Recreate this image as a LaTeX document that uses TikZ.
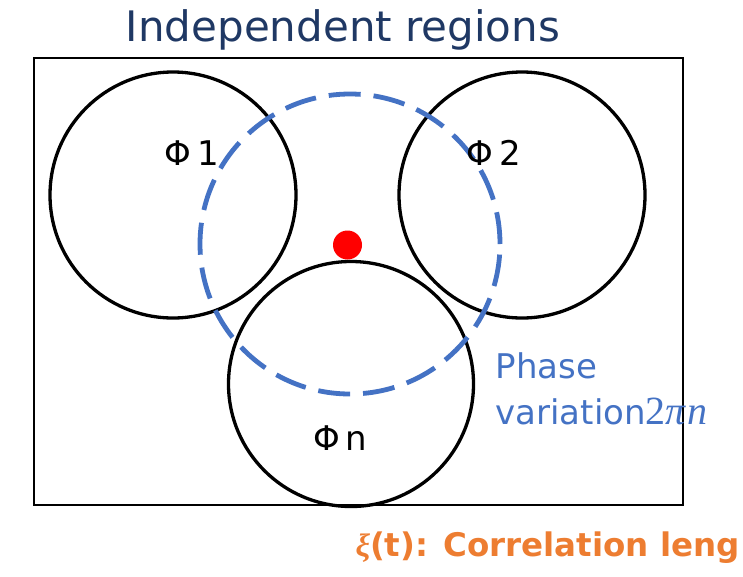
\documentclass[tikz,border=0pt]{standalone}
\usepackage{fontspec}
\setmainfont{DejaVu Sans}
\newfontfamily\mathserif{Liberation Serif}
\usepackage{tikz}
\usetikzlibrary{positioning}
\definecolor{titleblue}{HTML}{1F3864}
\definecolor{phaseblue}{HTML}{4472C4}
\definecolor{corrorange}{HTML}{ED7D31}
\tikzset{
  region/.style={circle, draw=black, line width=3.3pt, minimum size=246pt, inner sep=0pt},
  phase/.style={circle, draw=phaseblue, line width=4.8pt, dash pattern=on 32pt off 13pt, minimum size=300pt, inner sep=0pt},
  label/.style={font=\fontsize{34}{40}\selectfont},
}

\begin{document}
\begin{tikzpicture}[x=1pt,y=-1pt]
\useasboundingbox (0,0) rectangle (743,576);

% Frame
\draw[line width=2pt] (34,58) rectangle (683,505);

% Regions
\node[region] (r1) at (173,195) {};
\node[region] (r2) at (522,195) {};
\node[region, minimum size=245pt] (rn) at (351,384) {};

% Phase circle
\node[phase] (ph) at (350,244) {};
\node[circle, fill=red, minimum size=29pt, inner sep=0pt] (dot) at (347.5,245) {};

% Labels
\node[label] (l1) at (192,153) {Φ\,1};
\node[label] (l2) at (494,153) {Φ\,2};
\node[label] (ln) at (340,438) {Φ\,n};

\node[font=\fontsize{42}{48}\selectfont, text=titleblue] (title) at (343,30) {Independent regions};
\node[font=\fontsize{34}{46}\selectfont, text=phaseblue, align=left, anchor=north west] (phtext) at (492,349)
  {Phase\\variation{\mathserif\fontsize{40}{46}\selectfont 2\itshape π\kern2ptn}};
\node[font=\bfseries\fontsize{32.5}{36}\selectfont, text=corrorange, anchor=west] (corr) at (352,548)
  {{\mathserif\itshape ξ}(t): Correlation leng};

\end{tikzpicture}
\end{document}
